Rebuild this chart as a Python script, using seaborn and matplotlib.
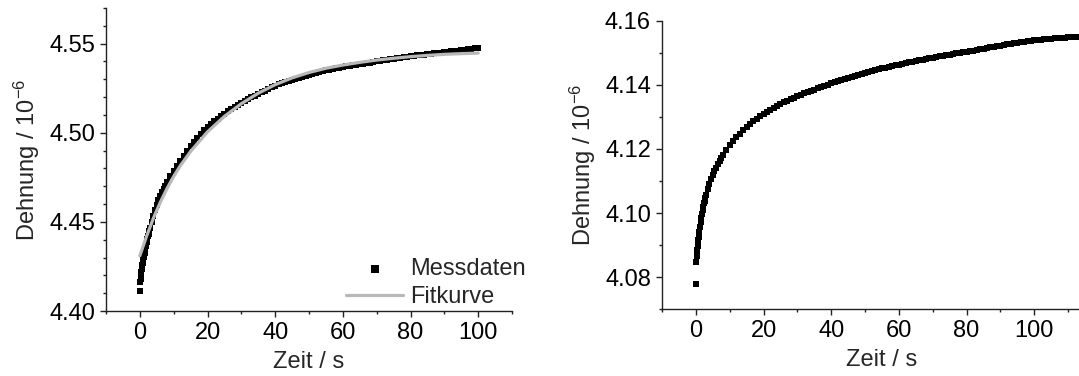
import matplotlib
matplotlib.use("Agg")
import matplotlib.pyplot as plt
import seaborn as sns
import pandas as pd
from matplotlib.ticker import MultipleLocator, FixedLocator, FormatStrFormatter

# ---------------- data ----------------
left_time = [0.0, 0.1, 0.2, 0.3, 0.4, 0.5, 0.6, 0.7, 0.8, 0.9, 1.0,
             1.2, 1.4, 1.6, 1.8, 2.0, 2.2, 2.4, 2.6, 2.8, 3.0,
             3.5, 4.0, 4.5, 5.0, 5.5, 6.0, 6.5, 7.0, 7.5, 8.0,
             9, 10, 11, 12, 13, 14, 15, 16, 17, 18, 19, 20,
             21, 22, 23, 24, 25, 26, 27, 28, 29, 30,
             31, 32, 33, 34, 35, 36, 37, 38, 39, 40,
             41, 42, 43, 44, 45, 46, 47, 48, 49, 50,
             51, 52, 53, 54, 55, 56, 57, 58, 59, 60,
             61, 62, 63, 64, 65, 66, 67, 68, 69, 70,
             71, 72, 73, 74, 75, 76, 77, 78, 79, 80,
             81, 82, 83, 84, 85, 86, 87, 88, 89, 90,
             91, 92, 93, 94, 95, 96, 97, 98, 99, 100]
left_strain = [4.4112, 4.4160, 4.4180, 4.4200, 4.4218, 4.4234, 4.4248, 4.4260, 4.4270, 4.4278, 4.4285,
               4.4305, 4.4325, 4.4345, 4.4365, 4.4385, 4.4402, 4.4418, 4.4434, 4.4450, 4.4465,
               4.4501, 4.4535, 4.4566, 4.4595, 4.4621, 4.4645, 4.4666, 4.4685, 4.4704, 4.4722,
               4.4755, 4.4785, 4.4815, 4.4844, 4.4872, 4.4899, 4.4924, 4.4948, 4.4971, 4.4993, 4.5013, 4.5032,
               4.5049, 4.5065, 4.5080, 4.5094, 4.5108, 4.5121, 4.5133, 4.5145, 4.5156, 4.5167,
               4.5178, 4.5189, 4.5199, 4.5209, 4.5219, 4.5228, 4.5237, 4.5246, 4.5255, 4.5263,
               4.5271, 4.5278, 4.5285, 4.5292, 4.5298, 4.5304, 4.5310, 4.5315, 4.5320, 4.5325,
               4.5330, 4.5335, 4.5340, 4.5345, 4.5350, 4.5354, 4.5358, 4.5362, 4.5366, 4.5370,
               4.5373, 4.5376, 4.5379, 4.5382, 4.5385, 4.5388, 4.5391, 4.5394, 4.5397, 4.5400,
               4.5403, 4.5406, 4.5409, 4.5412, 4.5415, 4.5418, 4.5421, 4.5424, 4.5427, 4.5430,
               4.5432, 4.5434, 4.5437, 4.5439, 4.5441, 4.5443, 4.5446, 4.5448, 4.5450, 4.5452,
               4.5454, 4.5457, 4.5459, 4.5461, 4.5464, 4.5466, 4.5468, 4.5470, 4.5473, 4.5475]

fit_time = [0, 2, 4, 6, 8, 10, 12, 15, 20, 25, 30, 35, 40, 45, 50,
            55, 60, 65, 70, 75, 80, 85, 90, 95, 100]
fit_strain = [4.4310, 4.4420, 4.4520, 4.4608, 4.4686, 4.4755, 4.4816, 4.4895, 4.5005,
              4.5092, 4.5163, 4.5222, 4.5270, 4.5308, 4.5338, 4.5362, 4.5380, 4.5395,
              4.5408, 4.5418, 4.5427, 4.5434, 4.5440, 4.5444, 4.5447]

right_time = [0.0, 0.1, 0.2, 0.3, 0.4, 0.5, 0.6, 0.7, 0.8, 0.9, 1.0,
              1.2, 1.4, 1.6, 1.8, 2.0, 2.2, 2.4, 2.6, 2.8, 3.0,
              3.5, 4.0, 4.5, 5.0, 5.5, 6.0, 6.5, 7.0, 7.5, 8.0,
              9, 10, 11, 12, 13, 14, 15, 16, 17, 18, 19, 20,
              21, 22, 23, 24, 25, 26, 27, 28, 29, 30,
              31, 32, 33, 34, 35, 36, 37, 38, 39, 40,
              41, 42, 43, 44, 45, 46, 47, 48, 49, 50,
              51, 52, 53, 54, 55, 56, 57, 58, 59, 60,
              61, 62, 63, 64, 65, 66, 67, 68, 69, 70,
              71, 72, 73, 74, 75, 76, 77, 78, 79, 80,
              81, 82, 83, 84, 85, 86, 87, 88, 89, 90,
              91, 92, 93, 94, 95, 96, 97, 98, 99, 100,
              101, 102, 103, 104, 105, 106, 107, 108, 109, 110,
              111, 112, 113, 114]
right_strain = [4.0779, 4.0849, 4.0865, 4.0876, 4.0886, 4.0896, 4.0906, 4.0915, 4.0924, 4.0933, 4.0942,
                4.0958, 4.0973, 4.0986, 4.0998, 4.1010, 4.1020, 4.1030, 4.1039, 4.1048, 4.1057,
                4.1075, 4.1092, 4.1106, 4.1119, 4.1131, 4.1142, 4.1153, 4.1163, 4.1172, 4.1181,
                4.1197, 4.1212, 4.1225, 4.1237, 4.1248, 4.1258, 4.1268, 4.1277, 4.1286, 4.1294, 4.1302, 4.1309,
                4.1316, 4.1322, 4.1328, 4.1334, 4.1340, 4.1345, 4.1350, 4.1355, 4.1360, 4.1365,
                4.1369, 4.1373, 4.1377, 4.1381, 4.1385, 4.1389, 4.1393, 4.1397, 4.1401, 4.1405,
                4.1408, 4.1412, 4.1415, 4.1419, 4.1422, 4.1425, 4.1428, 4.1431, 4.1434, 4.1437,
                4.1440, 4.1443, 4.1446, 4.1448, 4.1451, 4.1453, 4.1456, 4.1458, 4.1461, 4.1463,
                4.1465, 4.1468, 4.1470, 4.1472, 4.1474, 4.1476, 4.1479, 4.1481, 4.1483, 4.1485,
                4.1487, 4.1489, 4.1491, 4.1493, 4.1494, 4.1496, 4.1498, 4.1500, 4.1501, 4.1503,
                4.1505, 4.1507, 4.1509, 4.1511, 4.1513, 4.1515, 4.1517, 4.1519, 4.1520, 4.1522,
                4.1524, 4.1526, 4.1528, 4.1529, 4.1531, 4.1533, 4.1535, 4.1536, 4.1538, 4.1539,
                4.1540, 4.1541, 4.1542, 4.1543, 4.1544, 4.1545, 4.1546, 4.1547, 4.1547, 4.1548,
                4.1549, 4.1550, 4.1550, 4.1551]

x_ticks = [0, 20, 40, 60, 80, 100]
x_label = "Zeit / s"
y_label = "Dehnung / 10$^{\\mathregular{-6}}$"
legend_labels = ["Messdaten", "Fitkurve"]

# ---------------- style ----------------
sns.set_theme(style="ticks")
plt.rcParams["font.family"] = ["Liberation Sans", "DejaVu Sans"]
plt.rcParams["mathtext.fontset"] = "custom"
plt.rcParams["mathtext.rm"] = "Liberation Sans"
plt.rcParams["mathtext.it"] = "Liberation Sans:italic"
plt.rcParams["mathtext.bf"] = "Liberation Sans:bold"
plt.rcParams["axes.unicode_minus"] = False

FS = 17
spine_col = "#222222"
fig = plt.figure(figsize=(10.79, 3.76), dpi=100)
W, H = 1079, 376
ax1 = fig.add_axes([106 / W, (H - 311) / H, 406 / W, 303 / H])
ax2 = fig.add_axes([662 / W, (H - 309.3) / H, 440 / W, 288.6 / H])

df_left = pd.DataFrame({"t": left_time, "e": left_strain})
df_fit = pd.DataFrame({"t": fit_time, "e": fit_strain})
df_right = pd.DataFrame({"t": right_time, "e": right_strain})

sns.scatterplot(data=df_left, x="t", y="e", marker="s", color="black", s=13,
                linewidth=0, label=legend_labels[0], ax=ax1, zorder=2)
sns.lineplot(data=df_fit, x="t", y="e", color="#b8b8b8", lw=2.3,
             label=legend_labels[1], ax=ax1, zorder=3)
sns.scatterplot(data=df_right, x="t", y="e", marker="s", color="black", s=14,
                linewidth=0, ax=ax2, legend=False)

def style(ax, ylo, yhi, ymaj, xhi):
    ax.set_xlim(-10, xhi)
    ax.set_ylim(ylo, yhi)
    ax.xaxis.set_major_locator(FixedLocator(x_ticks))
    ax.xaxis.set_minor_locator(MultipleLocator(10))
    ax.yaxis.set_major_locator(MultipleLocator(ymaj))
    ax.yaxis.set_minor_locator(MultipleLocator(0.01))
    ax.yaxis.set_major_formatter(FormatStrFormatter("%.2f"))
    for s in ["top", "right"]:
        ax.spines[s].set_visible(False)
    for s in ["left", "bottom"]:
        ax.spines[s].set_color(spine_col)
        ax.spines[s].set_linewidth(1.0)
    ax.tick_params(which="major", length=4.5, width=1.0, color=spine_col,
                   labelsize=FS, direction="out", pad=3.5, labelcolor="black")
    ax.tick_params(which="minor", length=2.5, width=1.0, color=spine_col, direction="out")
    ax.set_xlabel(x_label, fontsize=FS, labelpad=5)
    ax.set_ylabel(y_label, fontsize=FS, labelpad=5)
    ax.grid(False)

style(ax1, 4.40, 4.57, 0.05, 110)
style(ax2, 4.07, 4.16, 0.02, 120)

leg = ax1.legend(loc="lower right", bbox_to_anchor=(1.045, -0.005), frameon=False,
                 fontsize=FS, handlelength=2.4, handletextpad=0.3,
                 labelspacing=0.25, borderaxespad=0.0, borderpad=0.2, markerscale=1.6)

fig.savefig("out.png", dpi=100)
